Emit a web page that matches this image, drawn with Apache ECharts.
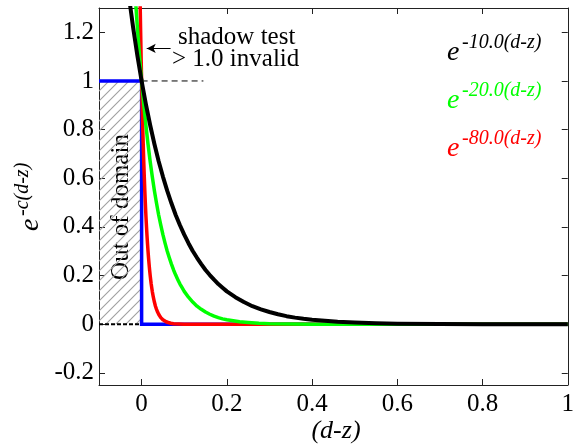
<!DOCTYPE html>
<html><head><meta charset="utf-8">
<script src="https://cdn.jsdelivr.net/npm/echarts@6/dist/echarts.min.js"></script>
<style>html,body{margin:0;padding:0;background:#fff}#c{width:577px;height:444px}
#pre{position:absolute;left:-9999px;top:0;font-family:'Liberation Serif';font-size:25px}</style>
</head><body>
<div id="pre"><span>shadow test 0.2</span><i>e-10.0(d-z)</i></div>
<div id="c"></div>
<script>
// ---- data ----
var xTicks = [0, 0.2, 0.4, 0.6, 0.8, 1];
var yTicks = [-0.2, 0, 0.2, 0.4, 0.6, 0.8, 1, 1.2];

var blackX = [-0.03,-0.02,-0.01,0,0.01,0.02,0.03,0.04,0.05,0.06,0.07,0.08,0.09,0.10,0.11,0.12,0.13,0.14,0.15,0.16,0.17,0.18,0.19,0.20,0.22,0.24,0.26,0.28,0.30,0.32,0.34,0.36,0.38,0.40,0.43,0.46,0.50,0.55,0.60,0.70,0.80,1.00];
var blackY = [1.350,1.221,1.105,1.000,0.905,0.819,0.741,0.670,0.607,0.549,0.497,0.449,0.407,0.368,0.333,0.301,0.273,0.247,0.223,0.202,0.183,0.165,0.150,0.135,0.111,0.091,0.074,0.061,0.050,0.041,0.033,0.027,0.022,0.018,0.014,0.010,0.007,0.004,0.002,0.001,0.000,0.000];

var greenX = [-0.015,-0.01,-0.005,0,0.005,0.01,0.015,0.02,0.025,0.03,0.035,0.04,0.045,0.05,0.055,0.06,0.065,0.07,0.075,0.08,0.085,0.09,0.095,0.10,0.11,0.12,0.13,0.14,0.15,0.16,0.17,0.18,0.19,0.20,0.215,0.23,0.25,0.275,0.30,0.35,0.40,1.00];
var greenY = [1.350,1.221,1.105,1.000,0.905,0.819,0.741,0.670,0.607,0.549,0.497,0.449,0.407,0.368,0.333,0.301,0.273,0.247,0.223,0.202,0.183,0.165,0.150,0.135,0.111,0.091,0.074,0.061,0.050,0.041,0.033,0.027,0.022,0.018,0.014,0.010,0.007,0.004,0.002,0.001,0.000,0.000];

var redX = [-0.00375,-0.0025,-0.00125,0,0.00125,0.0025,0.00375,0.005,0.00625,0.0075,0.00875,0.01,0.01125,0.0125,0.01375,0.015,0.01625,0.0175,0.01875,0.02,0.02125,0.0225,0.02375,0.025,0.0275,0.03,0.0325,0.035,0.0375,0.04,0.0425,0.045,0.0475,0.05,0.05375,0.0575,0.0625,0.06875,0.075,0.0875,0.10,1.00];
var redY = [1.350,1.221,1.105,1.000,0.905,0.819,0.741,0.670,0.607,0.549,0.497,0.449,0.407,0.368,0.333,0.301,0.273,0.247,0.223,0.202,0.183,0.165,0.150,0.135,0.111,0.091,0.074,0.061,0.050,0.041,0.033,0.027,0.022,0.018,0.014,0.010,0.007,0.004,0.002,0.001,0.000,0.000];

var blueX = [-0.1, 0, 0, 1];
var blueY = [1, 1, 0, 0];

var outDomain = [[-0.1, 0], [0, 1]];          // hatched region corners
var zeroLineX = [-0.1, 0], zeroLineY = [0, 0]; // dotted line
var oneLineX = [0, 0.145], oneLineY = [1, 1];  // dashed line
var arrowFrom = [0.068, 1.134], arrowTo = [0.012, 1.134];

var legendText = ['-10.0(d-z)', '-20.0(d-z)', '-80.0(d-z)'];
var legendColor = ['#000000', '#00ff00', '#ff0000'];

function zip(a, b) { return a.map(function (v, i) { return [v, b[i]]; }); }

// hatch pattern
var pc = document.createElement('canvas');
pc.width = 10; pc.height = 10;
var g = pc.getContext('2d');
g.strokeStyle = '#a0a0a0'; g.lineWidth = 1.1;
g.beginPath();
g.moveTo(0, 10); g.lineTo(10, 0);
g.moveTo(-5, 5); g.lineTo(5, -5);
g.moveTo(5, 15); g.lineTo(15, 5);
g.stroke();

var FONT = 'Liberation Serif';
function fmt(v) { return String(Math.round(v * 10) / 10); }
function txt(x, y, s, size, italic, color, align, rot) {
  var st = { text: s, fontFamily: FONT, fontSize: size, fill: color, textAlign: align || 'left', textVerticalAlign: 'middle' };
  if (italic) st.fontStyle = 'italic';
  var o = { type: 'text', x: x, y: y, style: st };
  if (rot) o.rotation = rot;
  return o;
}

var axisCommon = {
  type: 'value',
  axisLine: { show: true, onZero: false, lineStyle: { color: '#222', width: 1 } },
  axisTick: { show: true, inside: true, length: 6, lineStyle: { color: '#222' } },
  splitLine: { show: false }
};

var graphics = [];
var legBase = [43, 91, 139];
for (var i = 0; i < 3; i++) {
  graphics.push(txt(447, legBase[i] + 9.5, 'e', 28, true, legendColor[i]));
  graphics.push(txt(462, legBase[i], legendText[i], 20, true, legendColor[i]));
}
graphics.push(txt(178, 37, 'shadow test', 25, false, '#000'));
graphics.push(txt(172, 59, '> 1.0 invalid', 25, false, '#000'));
graphics.push(txt(121.5, 207, 'Out of domain', 25, false, '#000', 'center', Math.PI / 2));
graphics.push({ type: 'group', x: 40, y: 231, rotation: Math.PI / 2, children: [
  txt(0, -9.5, 'e', 28, true, '#000'),
  txt(15, -17, '-c(d-z)', 20, true, '#000')
] });
graphics.push(txt(336, 431, '(d-z)', 26, true, '#000', 'center'));

var lineBase = { type: 'line', showSymbol: false, symbol: 'none', animation: false, silent: true };

var option = {
  animation: false,
  grid: { left: 99, top: 8, right: 3, bottom: 59, containLabel: false },
  xAxis: [
    Object.assign({}, axisCommon, { min: -0.1, max: 1, position: 'bottom',
      axisTick: Object.assign({}, axisCommon.axisTick, { customValues: xTicks }),
      axisLabel: { customValues: xTicks, formatter: fmt, fontFamily: FONT, fontSize: 25, color: '#000', margin: 7 } }),
    Object.assign({}, axisCommon, { min: -0.1, max: 1, position: 'top',
      axisTick: Object.assign({}, axisCommon.axisTick, { customValues: xTicks }),
      axisLabel: { show: false } })
  ],
  yAxis: [
    Object.assign({}, axisCommon, { min: -0.25, max: 1.3, position: 'left',
      axisTick: Object.assign({}, axisCommon.axisTick, { customValues: yTicks }),
      axisLabel: { customValues: yTicks, formatter: fmt, fontFamily: FONT, fontSize: 25, color: '#000', margin: 5 } }),
    Object.assign({}, axisCommon, { min: -0.25, max: 1.3, position: 'right',
      axisTick: Object.assign({}, axisCommon.axisTick, { customValues: yTicks }),
      axisLabel: { show: false } })
  ],
  graphic: graphics,
  series: [
    Object.assign({}, lineBase, { name: 'hatch', data: [], z: 1,
      markArea: { silent: true, itemStyle: { color: { image: pc, repeat: 'repeat' }, borderWidth: 0 },
        data: [[{ coord: outDomain[0] }, { coord: outDomain[1] }]] } }),
    Object.assign({}, lineBase, { name: 'zero', data: zip(zeroLineX, zeroLineY), z: 2,
      lineStyle: { color: '#000', width: 2, type: [4, 2] } }),
    Object.assign({}, lineBase, { name: 'one', data: zip(oneLineX, oneLineY), z: 2,
      lineStyle: { color: '#000', width: 1, type: [6, 4] },
      markLine: { silent: true, symbol: ['none', 'arrow'], symbolSize: [7, 9], label: { show: false },
        lineStyle: { color: '#000', width: 1, type: 'solid' },
        data: [[{ coord: arrowFrom }, { coord: arrowTo }]] } }),
    Object.assign({}, lineBase, { name: 'blue', data: zip(blueX, blueY), z: 3,
      lineStyle: { color: '#0000ff', width: 3.5, join: 'miter', cap: 'butt' } }),
    Object.assign({}, lineBase, { name: 'red', data: zip(redX, redY), z: 4,
      lineStyle: { color: '#ff0000', width: 3.5, join: 'round' } }),
    Object.assign({}, lineBase, { name: 'green', data: zip(greenX, greenY), z: 5,
      lineStyle: { color: '#00ff00', width: 3.5, join: 'round' } }),
    Object.assign({}, lineBase, { name: 'black', data: zip(blackX, blackY), z: 6,
      lineStyle: { color: '#000000', width: 4, join: 'round' } })
  ]
};

var chart = echarts.init(document.getElementById('c'), null, { renderer: 'canvas' });
function draw() { chart.clear(); chart.setOption(option, true); }
draw();
if (document.fonts) {
  document.fonts.ready.then(draw);
  if (document.fonts.load) {
    Promise.all([
      document.fonts.load('25px "Liberation Serif"'),
      document.fonts.load('italic 25px "Liberation Serif"')
    ]).then(draw, draw);
  }
}
requestAnimationFrame(function () { draw(); });
setTimeout(draw, 100);
</script>
</body></html>
